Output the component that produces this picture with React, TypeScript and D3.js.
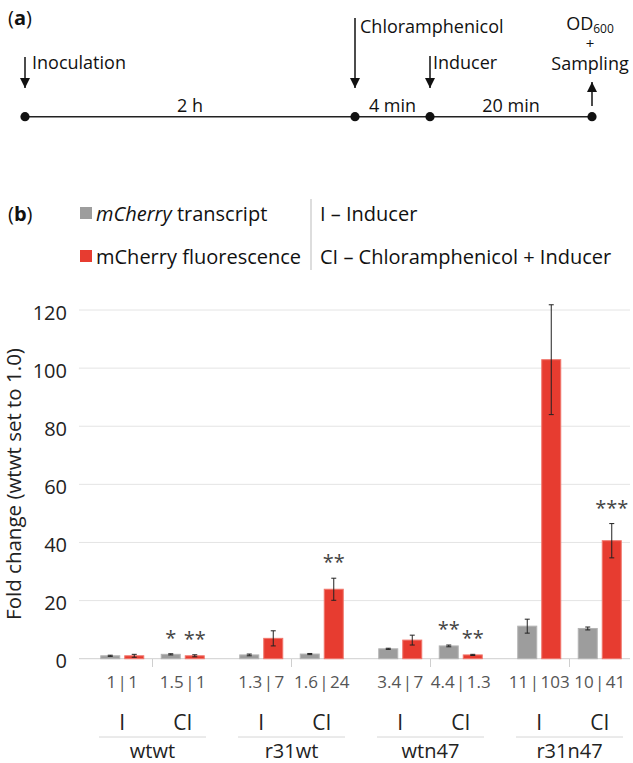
import React from "react";
import * as d3 from "d3";

// ---------- data ----------
const groups = ["wtwt", "r31wt", "wtn47", "r31n47"];
const treatments = ["I", "CI"];
// order: wtwt-I, wtwt-CI, r31wt-I, r31wt-CI, wtn47-I, wtn47-CI, r31n47-I, r31n47-CI
const transcript = [1.0, 1.5, 1.3, 1.6, 3.4, 4.4, 11.2, 10.4];
const transcriptErr = [0.2, 0.2, 0.3, 0.2, 0.2, 0.3, 2.4, 0.5];
const fluorescence = [1.0, 1.0, 7.0, 23.9, 6.4, 1.3, 102.9, 40.6];
const fluorescenceErr = [0.5, 0.35, 2.6, 3.8, 1.7, 0.2, 18.9, 5.9];
const valueLabels = ["1 | 1", "1.5 | 1", "1.3 | 7", "1.6 | 24", "3.4 | 7", "4.4 | 1.3", "11 | 103", "10 | 41"];
const transcriptSig = ["", "*", "", "", "", "**", "", ""];
const fluorescenceSig = ["", "**", "", "**", "", "**", "", "***"];
const yTicks = [0, 20, 40, 60, 80, 100, 120];
const seriesNames = ["transcript", "fluorescence"];

const FONT = "'Open Sans', 'Noto Sans', sans-serif";
const GRAY = "#9d9d9d";
const RED = "#e73c30";

export default function App() {
  // ---- panel (b) scales ----
  const y = d3.scaleLinear().domain([0, 120]).range([658.7, 310]);
  const xGroup = d3.scaleBand<string>().domain(groups).range([83, 639]);
  const xTreat = d3.scaleBand<string>().domain(treatments).range([0, xGroup.bandwidth() - 18]).paddingOuter(0);
  const xSeries = d3.scaleBand<string>().domain(seriesNames).range([-21.5, 21.5]).paddingInner(5 / 24);
  const treatOffset = 9; // inner offset of treatments inside each group

  const items = groups.flatMap((g, gi) =>
    treatments.map((t, ti) => {
      const i = gi * 2 + ti;
      const cx = (xGroup(g) as number) + treatOffset + (xTreat(t) as number) + xTreat.bandwidth() / 2;
      return { g, t, i, cx };
    })
  );

  const series = [
    { key: "transcript", vals: transcript, errs: transcriptErr, sig: transcriptSig, fill: GRAY, stroke: "#b4b4b4" },
    { key: "fluorescence", vals: fluorescence, errs: fluorescenceErr, sig: fluorescenceSig, fill: RED, stroke: "#f0756b" },
  ];

  // ---- panel (a) timeline scale ----
  const tl = d3.scaleLinear().domain([0, 1]).range([25, 592]);
  const events = [
    { pos: 0, label: "Inoculation", dir: "down" },
    { pos: (355 - 25) / 567, label: "Chloramphenicol", dir: "down" },
    { pos: (430 - 25) / 567, label: "Inducer", dir: "down" },
    { pos: 1, label: "Sampling", dir: "up" },
  ];
  const intervals = ["2 h", "4 min", "20 min"];
  const lineY = 116.7;

  return (
    <svg width={633} height={763} style={{ position: "absolute", left: 0, top: 0, background: "#fff" }} fontFamily={FONT}>
      <defs>
        <marker id="ah" viewBox="0 0 10 10" refX="10" refY="5" markerWidth="10" markerHeight="10" markerUnits="userSpaceOnUse" orient="auto">
          <path d="M0,0 L10,5 L0,10 z" fill="#111" />
        </marker>
      </defs>

      {/* ---------- panel (a) ---------- */}
      <text x={8} y={25} fontSize={20} fill="#111">
        (<tspan fontWeight="bold">a</tspan>)
      </text>
      <line x1={tl(0)} x2={tl(1)} y1={lineY} y2={lineY} stroke="#222" strokeWidth={1.5} />
      {events.map((e, k) => (
        <circle key={k} cx={tl(e.pos)} cy={lineY} r={4.6} fill="#111" />
      ))}
      {/* arrows */}
      <line x1={tl(events[0].pos)} x2={tl(events[0].pos)} y1={57} y2={88} stroke="#111" strokeWidth={1.5} markerEnd="url(#ah)" />
      <line x1={tl(events[1].pos)} x2={tl(events[1].pos)} y1={18} y2={88} stroke="#111" strokeWidth={1.5} markerEnd="url(#ah)" />
      <line x1={tl(events[2].pos)} x2={tl(events[2].pos)} y1={56} y2={88} stroke="#111" strokeWidth={1.5} markerEnd="url(#ah)" />
      <line x1={tl(events[3].pos)} x2={tl(events[3].pos)} y1={106} y2={82} stroke="#111" strokeWidth={1.5} markerEnd="url(#ah)" />
      <text x={tl(events[0].pos) + 7} y={69} fontSize={18} fill="#111">{events[0].label}</text>
      <text x={tl(events[1].pos) + 5} y={33} fontSize={18} fill="#111">{events[1].label}</text>
      <text x={tl(events[2].pos) + 3} y={69} fontSize={18} fill="#111">{events[2].label}</text>
      <text x={tl(events[3].pos) - 2} y={30} fontSize={18} fill="#111" textAnchor="middle">
        OD<tspan fontSize={12} dy={3}>600</tspan>
      </text>
      <text x={tl(events[3].pos) - 2} y={49} fontSize={15} fill="#111" textAnchor="middle">+</text>
      <text x={tl(events[3].pos) - 2} y={70} fontSize={18} fill="#111" textAnchor="middle">{events[3].label}</text>
      {intervals.map((lab, k) => {
        const mid = (tl(events[k].pos) + tl(events[k + 1].pos)) / 2;
        return (
          <text key={lab} x={mid} y={112} fontSize={18} fill="#111" textAnchor="middle">{lab}</text>
        );
      })}

      {/* ---------- panel (b) legend ---------- */}
      <text x={8} y={221} fontSize={20} fill="#111">
        (<tspan fontWeight="bold">b</tspan>)
      </text>
      <rect x={80} y={207} width={12} height={12} fill={GRAY} />
      <text x={96} y={221} fontSize={20} fill="#111">
        <tspan fontStyle="italic">mCherry</tspan> transcript
      </text>
      <rect x={80} y={250} width={12} height={12} fill={RED} />
      <text x={96} y={264} fontSize={20} fill="#111">mCherry fluorescence</text>
      <line x1={311} x2={311} y1={199} y2={270} stroke="#bbb" strokeWidth={1} />
      <text x={320} y={221} fontSize={20} fill="#111">I – Inducer</text>
      <text x={320} y={264} fontSize={20} fill="#111">CI – Chloramphenicol + Inducer</text>

      {/* ---------- panel (b) axes ---------- */}
      {yTicks.map((v) => (
        <g key={v}>
          <line x1={79} x2={630} y1={y(v)} y2={y(v)} stroke={v === 0 ? "#cfcfcf" : "#e4e4e4"} strokeWidth={1} />
          <text x={67} y={y(v) + 9.5} fontSize={20} fill="#222" textAnchor="end">{v}</text>
        </g>
      ))}
      <text transform={`translate(21,484) rotate(-90)`} fontSize={20.5} fill="#222" textAnchor="middle">
        Fold change (wtwt set to 1.0)
      </text>

      {/* group dividers (between I and CI) */}
      {groups.map((g) => {
        const c = (xGroup(g) as number) + xGroup.bandwidth() / 2;
        return (
          <g key={g}>
            <line x1={c} x2={c} y1={659} y2={667} stroke="#cfcfcf" />
            <line x1={c - 53.5} x2={c + 53.5} y1={737} y2={737} stroke="#d6d6d6" />
            <text x={c} y={758} fontSize={20} fill="#222" textAnchor="middle">{g}</text>
          </g>
        );
      })}

      {/* bars */}
      {series.map((s) =>
        items.map((it) => {
          const x0 = it.cx + (xSeries(s.key) as number);
          const bw = xSeries.bandwidth();
          const v = s.vals[it.i];
          const e = s.errs[it.i];
          const xc = x0 + bw / 2;
          return (
            <g key={s.key + it.i}>
              <rect x={x0} y={y(v)} width={bw} height={y(0) - y(v)} fill={s.fill} stroke={s.stroke} strokeWidth={1} />
              <line x1={xc} x2={xc} y1={y(v + e)} y2={y(v - e)} stroke="#222" strokeWidth={1} />
              <line x1={xc - 2.5} x2={xc + 2.5} y1={y(v + e)} y2={y(v + e)} stroke="#222" strokeWidth={1} />
              <line x1={xc - 2.5} x2={xc + 2.5} y1={y(v - e)} y2={y(v - e)} stroke="#222" strokeWidth={1} />
              {s.sig[it.i] && (
                <text x={xc} y={y(v + e) - 9} fontSize={20} fill="#444" textAnchor="middle">{s.sig[it.i]}</text>
              )}
            </g>
          );
        })
      )}

      {/* value labels and treatment labels */}
      {items.map((it) => (
        <g key={"l" + it.i}>
          <text x={it.cx} y={688} fontSize={17} fill="#555" textAnchor="middle" wordSpacing={-3}>
            {valueLabels[it.i]}
          </text>
          <text x={it.cx} y={730} fontSize={21} fill="#222" textAnchor="middle">{it.t}</text>
        </g>
      ))}
    </svg>
  );
}
